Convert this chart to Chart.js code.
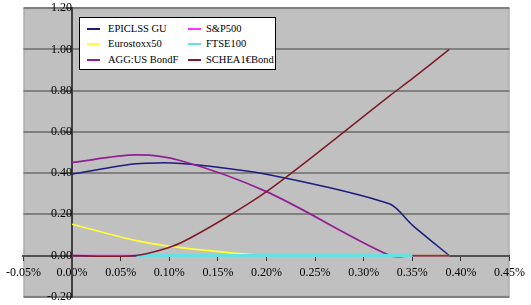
<!DOCTYPE html>
<html>
<head>
<meta charset="utf-8">
<script src="https://cdn.jsdelivr.net/npm/chart.js@4.4.0/dist/chart.umd.min.js"></script>
<style>
  html, body { margin: 0; padding: 0; background: #fff; }
  #wrap { position: relative; width: 531px; height: 305px; }
  #legend { position: absolute; left: 79px; top: 17px; width: 197px; height: 53px;
    box-sizing: border-box; border: 1px solid #000; background: #fff;
    font-family: "Liberation Serif", "Times New Roman", serif; font-size: 10.5px; color: #000; }
  .item { position: absolute; height: 12px; line-height: 12px; white-space: nowrap; }
  .swatch { position: absolute; top: 5px; height: 2px; }
  .label { position: absolute; top: 0; }
</style>
</head>
<body>
<div id="wrap">
  <canvas id="c" width="531" height="305"></canvas>
  <div id="legend"></div>
</div>
<script>
// x values (% return), shared by all series
const xValues = [0.00, 0.066, 0.112, 0.20, 0.327, 0.35, 0.388];
const seriesNames = ["EPICLSS GU", "Eurostoxx50", "AGG:US BondF", "S&P500", "FTSE100", "SCHEA1€Bond"];
const epiclss   = [0.395, 0.445, 0.447, 0.395, 0.25, 0.148, 0.0];
const eurostoxx = [0.152, 0.072, 0.038, 0.0, 0.0, 0.0, 0.0];
const aggBond   = [0.452, 0.488, 0.46, 0.31, 0.0, 0.0, 0.0];
const sp500     = [0.0, 0.0, 0.0, 0.0, 0.0, null, null];
const ftse100   = [null, 0.0, 0.0, 0.0, 0.0, 0.0, null];
const schea     = [0.0, 0.0, 0.062, 0.31, 0.776, 0.858, 1.0];
const xTicksMin = -0.05, xTicksMax = 0.45, xStep = 0.05;
const yTicksMin = -0.2, yTicksMax = 1.2, yStep = 0.2;

const colors = ["#1c1c80", "#ffff33", "#931f93", "#ff33ff", "#66e0e0", "#7f1a2a"];
const widths = [1.5, 1.75, 1.75, 1.5, 3, 1.5];
const tensions = [0.25, 0.25, 0.32, 0.25, 0.25, 0.25];
const allSeries = [epiclss, eurostoxx, aggBond, sp500, ftse100, schea];

const datasets = allSeries.map((vals, i) => ({
  label: seriesNames[i],
  data: xValues.map((x, j) => ({ x: x, y: vals[j] })),
  borderColor: colors[i],
  backgroundColor: colors[i],
  borderWidth: widths[i],
  pointRadius: 0,
  tension: tensions[i],
  fill: false,
  spanGaps: false,
  order: allSeries.length - i
}));

const plotBg = {
  id: 'plotBg',
  beforeDraw(chart) {
    const { ctx, chartArea: a } = chart;
    ctx.save();
    ctx.fillStyle = '#c0c0c0';
    ctx.fillRect(a.left, a.top, a.right - a.left, a.bottom - a.top);
    ctx.strokeStyle = '#a4a4a4';
    ctx.lineWidth = 1;
    ctx.strokeRect(a.left + 0.5, a.top + 0.5, a.right - a.left - 1, a.bottom - a.top - 1);
    ctx.restore();
  }
};

const fmt = v => (Math.abs(v) < 1e-9 ? 0 : v).toFixed(2);

const chart = new Chart(document.getElementById('c'), {
  type: 'line',
  data: { datasets },
  plugins: [plotBg],
  options: {
    responsive: false,
    animation: false,
    devicePixelRatio: 1,
    layout: { padding: { left: 16, right: 16, top: 6, bottom: 5 } },
    plugins: { legend: { display: false }, tooltip: { enabled: false } },
    scales: {
      x: {
        type: 'linear',
        min: xTicksMin, max: xTicksMax,
        position: { y: 0 },
        grid: { drawOnChartArea: false, drawTicks: true, tickLength: 4, color: '#333', lineWidth: 1 },
        border: { display: true, color: '#505050', width: 2 },
        ticks: {
          stepSize: xStep, autoSkip: false, maxRotation: 0, padding: 6,
          color: '#000', font: { family: 'Liberation Serif', size: 12 },
          callback: v => fmt(v) + '%'
        }
      },
      y: {
        type: 'linear',
        min: yTicksMin, max: yTicksMax,
        position: { x: 0 },
        grid: { drawOnChartArea: true, color: '#808080', lineWidth: 2, drawTicks: true, tickLength: 5, tickColor: '#333', tickWidth: 1 },
        border: { display: true, color: '#404040', width: 2 },
        ticks: {
          stepSize: yStep, autoSkip: false, padding: 1,
          color: '#000', font: { family: 'Liberation Serif', size: 12 },
          callback: v => fmt(v)
        }
      }
    }
  }
});

// custom legend (column-major, 3 rows), built from the chart's datasets
const legend = document.getElementById('legend');
const colX = [7, 108];
const textX = [28, 126];
const rowY = [5, 20, 36];
chart.data.datasets.forEach((ds, i) => {
  const col = Math.floor(i / 3), row = i % 3;
  const item = document.createElement('div');
  item.className = 'item';
  item.style.left = '0px';
  item.style.top = rowY[row] + 'px';
  const sw = document.createElement('div');
  sw.className = 'swatch';
  sw.style.left = colX[col] + 'px';
  sw.style.width = '13px';
  sw.style.background = ds.borderColor;
  const lb = document.createElement('span');
  lb.className = 'label';
  lb.style.left = textX[col] + 'px';
  lb.textContent = ds.label;
  item.appendChild(sw);
  item.appendChild(lb);
  legend.appendChild(item);
});
</script>
</body>
</html>
